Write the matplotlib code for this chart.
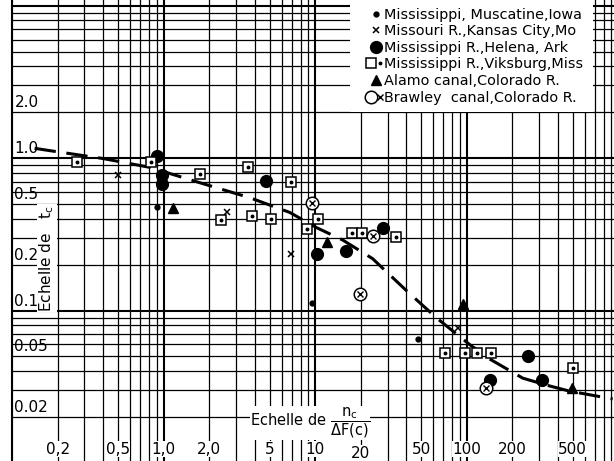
import matplotlib
matplotlib.use('Agg')
import matplotlib.pyplot as plt
from matplotlib.lines import Line2D
from matplotlib.patches import Rectangle
from matplotlib.legend_handler import HandlerTuple
from matplotlib.ticker import LogLocator

# points (x = n_c / dF(c), y = t_c)
muscatine_x = [0.91, 9.5, 48]
muscatine_y = [0.48, 0.112, 0.065]

missouri_x = [0.5, 2.6, 6.9, 88]
missouri_y = [0.77, 0.44, 0.236, 0.077]

helena_x = [0.91, 0.97, 0.97, 4.7, 10.2, 15.9, 27.9, 252, 142, 312]
helena_y = [1.04, 0.77, 0.68, 0.71, 0.236, 0.247, 0.35, 0.05, 0.035, 0.035]

vicksburg_x = [0.267, 0.83, 1.73, 3.58, 6.9, 2.38, 3.8, 5.1, 10.4, 8.8,
               17.4, 20.5, 34, 72, 97, 117, 144, 499]
vicksburg_y = [0.94, 0.94, 0.79, 0.87, 0.70, 0.395, 0.42, 0.40, 0.40, 0.345,
               0.325, 0.325, 0.305, 0.053, 0.053, 0.053, 0.053, 0.042]

alamo_x = [1.15, 11.9, 94, 495]
alamo_y = [0.47, 0.28, 0.111, 0.031]

brawley_x = [9.5, 23.9, 19.6, 134]
brawley_y = [0.51, 0.31, 0.129, 0.031]

# dashed mean curve
curve_x = [0.141, 0.177, 0.396, 0.81, 1.73, 3.7, 6.8, 10.2, 15.2, 23.9,
           40, 63, 104, 142, 234, 352, 476, 916]
curve_y = [1.16, 1.12, 0.995, 0.87, 0.69, 0.55, 0.44, 0.35, 0.29, 0.219,
           0.135, 0.0896, 0.060, 0.048, 0.036, 0.032, 0.0296, 0.0263]

xtick_vals = [0.2, 0.5, 1.0, 2.0, 5, 10, 20, 50, 100, 200, 500]
xtick_labels = ['0,2', '0,5', '1,0', '2,0', '5', '10', '20', '50', '100', '200', '500']
ytick_vals = [2.0, 1.0, 0.5, 0.2, 0.1, 0.05, 0.02]
ytick_labels = ['2.0', '1.0', '0.5', '0.2', '0.1', '0.05', '0.02']

legend_labels = ['Mississippi, Muscatine,Iowa',
                 'Missouri R.,Kansas City,Mo',
                 'Mississippi R.,Helena, Ark',
                 'Mississippi R.,Viksburg,Miss',
                 'Alamo canal,Colorado R.',
                 'Brawley  canal,Colorado R.']

fig = plt.figure(figsize=(6.14, 4.61), dpi=100)
ax = fig.add_axes([12 / 614, 0, 602 / 614, 1])
ax.set_xscale('log')
ax.set_yscale('log')
ax.set_xlim(0.1, 935)
ax.set_ylim(0.0103, 10.9)

for axis in (ax.xaxis, ax.yaxis):
    axis.set_major_locator(LogLocator(base=10, numticks=20))
    axis.set_minor_locator(LogLocator(base=10, subs=range(2, 10), numticks=20))
ax.grid(which='major', color='black', lw=1.5)
ax.grid(which='minor', color='black', lw=0.9)
ax.set_axisbelow(True)
ax.tick_params(which='both', length=0, labelbottom=False, labelleft=False)
for s in ['top', 'right', 'bottom']:
    ax.spines[s].set_visible(False)
ax.spines['left'].set_linewidth(1.5)

# mean curve
ax.plot(curve_x, curve_y, color='black', lw=2.2, ls=(0, (7, 3.5)), zorder=3)

# data
ax.plot(muscatine_x, muscatine_y, ls='none', marker='o', ms=3.5, color='black', zorder=4)
ax.plot(missouri_x, missouri_y, ls='none', marker='x', ms=5, mew=1.1, color='black', zorder=4)
ax.plot(helena_x, helena_y, ls='none', marker='o', ms=8.5, color='black', zorder=4)
ax.plot(vicksburg_x, vicksburg_y, ls='none', marker='s', ms=6.5, mfc='white', mec='black',
        mew=1.1, zorder=4)
ax.plot(vicksburg_x, vicksburg_y, ls='none', marker='o', ms=1.8, color='black', zorder=5)
ax.plot(alamo_x, alamo_y, ls='none', marker='^', ms=7, color='black', zorder=4)
ax.plot(brawley_x, brawley_y, ls='none', marker='o', ms=9, mfc='white', mec='black',
        mew=1.1, zorder=4)
ax.plot(brawley_x, brawley_y, ls='none', marker='x', ms=4, mew=1.0, color='black', zorder=5)

# tick labels drawn inside the grid, as on the original sheet
for v, lab in zip(xtick_vals, xtick_labels):
    yy = 0.017 if lab == '20' else 0.026
    ax.text(v, yy, lab, transform=ax.get_xaxis_transform(), ha='center', va='center',
            fontsize=11, zorder=7,
            bbox=dict(facecolor='white', edgecolor='none', pad=0.3))
for v, lab in zip(ytick_vals, ytick_labels):
    ax.text(0.004, v * 1.03, lab, transform=ax.get_yaxis_transform(), ha='left',
            va='bottom', fontsize=11, zorder=7)

ax.text(0.058, 0.44, 'Echelle de   t$_\\mathrm{c}$', transform=ax.transAxes, rotation=90,
        ha='center', va='center', fontsize=11, zorder=6,
        bbox=dict(facecolor='white', edgecolor='none', pad=0.5))
ax.text(0.495, 0.082, r'Echelle de $\dfrac{\mathrm{n_c}}{\Delta\mathrm{F(c)}}$',
        transform=ax.transAxes, ha='center', va='center', fontsize=10.5, zorder=6,
        bbox=dict(facecolor='white', edgecolor='none', pad=0.0))

# legend on a white patch
ax.add_patch(Rectangle((0.5615, 0.757), 0.4035, 0.25, transform=ax.transAxes,
                       facecolor='white', edgecolor='none', zorder=6))
handles = [
    Line2D([], [], ls='none', marker='o', ms=3.5, color='black'),
    Line2D([], [], ls='none', marker='x', ms=5, mew=1.1, color='black'),
    Line2D([], [], ls='none', marker='o', ms=8.5, color='black'),
    (Line2D([], [], ls='none', marker='s', ms=6.5, mfc='white', mec='black', mew=1.1),
     Line2D([], [], ls='none', marker='o', ms=1.8, color='black')),
    Line2D([], [], ls='none', marker='^', ms=7, color='black'),
    (Line2D([], [], ls='none', marker='o', ms=9, mfc='white', mec='black', mew=1.1),
     Line2D([], [], ls='none', marker='x', ms=4, mew=1.0, color='black')),
]
leg = ax.legend(handles, legend_labels, loc='upper left', bbox_to_anchor=(0.585, 0.996),
                borderaxespad=0, frameon=False, fontsize=10.4, handlelength=0.8,
                handletextpad=0.15, labelspacing=0.18,
                handler_map={tuple: HandlerTuple(ndivide=None)})
leg.set_zorder(8)

fig.savefig('out.png', dpi=100)
